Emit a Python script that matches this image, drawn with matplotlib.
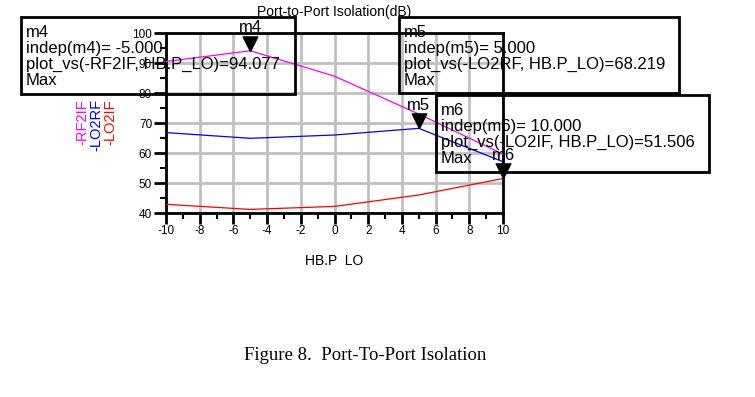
import matplotlib
matplotlib.use('Agg')
import matplotlib.pyplot as plt
from matplotlib.patches import Rectangle

# Dữ liệu
p_lo = [-10, -5, 0, 5, 10]
rf2if = [90.5, 94.077, 85.6, 73.0, 59.6]
lo2rf = [66.8, 64.9, 66.0, 68.219, 57.1]
lo2if = [42.9, 41.2, 42.2, 46.0, 51.506]

series = [('-RF2IF', rf2if, '#ff00ff'),
          ('-LO2RF', lo2rf, '#0000ff'),
          ('-LO2IF', lo2if, '#ff0000')]

# markers: (name, x, y, series name)
markers = [('m4', -5, rf2if[1], '-RF2IF'),
           ('m5', 5, lo2rf[3], '-LO2RF'),
           ('m6', 10, lo2if[4], '-LO2IF')]

W, H = 755, 397
plt.rcParams['font.family'] = ['Liberation Sans', 'DejaVu Sans']
plt.rcParams['axes.unicode_minus'] = False

fig = plt.figure(figsize=(W / 100, H / 100), dpi=100)


def fx(px):
    return px / W


def fy(py):
    return 1 - py / H


ax = fig.add_axes([fx(166), fy(213), (503 - 166) / W, (213 - 33) / H])

for name, vals, col in series:
    ax.plot(p_lo, vals, color=col, linewidth=0.9, zorder=3)

ax.set_xlim(-10, 10)
ax.set_ylim(40, 100)
ax.set_xticks(range(-10, 11, 2))
ax.set_xticks(range(-9, 10, 2), minor=True)
ax.set_yticks(range(40, 101, 10))
ax.set_yticks(range(45, 100, 10), minor=True)
ax.grid(True, which='major', color='#c0c0c0', linewidth=2)
ax.set_axisbelow(True)
for s in ax.spines.values():
    s.set_linewidth(2)
ax.tick_params(which='major', length=8, width=2, labelsize=8.5, pad=1)
ax.tick_params(which='minor', length=4, width=1.5)
ax.tick_params(axis='y', which='major', length=9)

ax.set_title('Port-to-Port Isolation(dB)', fontsize=10, pad=12)
ax.set_xlabel('HB.P  LO', fontsize=10, labelpad=12)

# nhãn trục y màu
for i, (name, vals, col) in enumerate(series):
    fig.text(fx(82 + i * 14), fy(99), name, color=col, rotation=90,
             ha='center', va='top', fontsize=10.5)

# tam giác marker, mũi nhọn tại điểm dữ liệu
tri = [(0, 0), (-0.5, 1), (0.5, 1), (0, 0)]
for name, x, y, _ in markers:
    ax.plot([x], [y], marker=tri, markersize=21, color='black',
            linestyle='none', clip_on=False, zorder=5)
    ax.annotate(name, (x, y), xytext=(0, 11), textcoords='offset points',
                ha='center', va='bottom', fontsize=12, annotation_clip=False)

# hộp thông tin marker
boxes = [(21, 17, 295, 94, 26, 'm4'),
         (399, 17, 679, 93, 404, 'm5'),
         (436, 95, 709, 172, 441, 'm6')]
for (l, t, r, b, tx, name), (_, x, y, sname) in zip(boxes, markers):
    fig.add_artist(Rectangle((fx(l), fy(b)), (r - l) / W, (b - t) / H,
                             transform=fig.transFigure, fill=False,
                             edgecolor='black', linewidth=2))
    txt = f'{name}\nindep({name})= {x:.3f}\nplot_vs({sname}, HB.P_LO)={y:.3f}\nMax'
    fig.text(fx(tx), fy(t + 8), txt, ha='left', va='top', fontsize=12,
             linespacing=1.08)

fig.text(fx(365), fy(356), 'Figure 8.  Port-To-Port Isolation',
         family='Liberation Serif', fontsize=13.5, ha='center', va='center')

fig.savefig('out.png', dpi=100)
